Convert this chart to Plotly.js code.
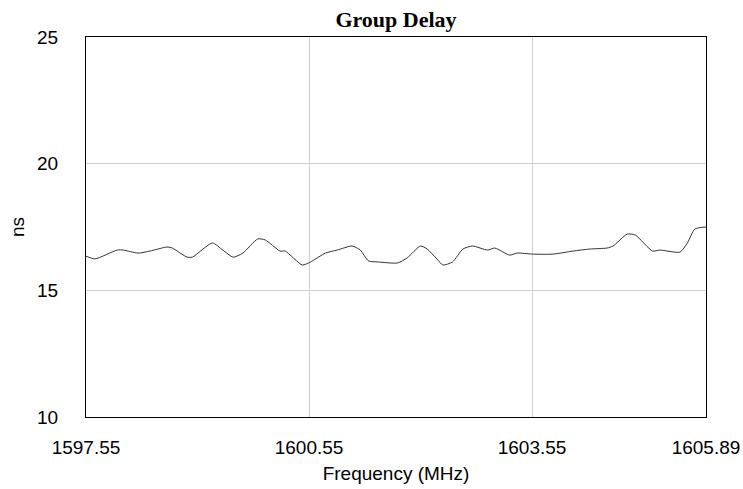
<!DOCTYPE html>
<html>
<head>
<meta charset="utf-8">
<script src="https://cdn.plot.ly/plotly-3.0.1.min.js"></script>
<style>html,body{margin:0;padding:0;background:#fff;}#chart{width:743px;height:489px;}</style>
</head>
<body>
<div id="chart"></div>
<script>
const freqMHz = [1597.55,1597.67,1597.97,1598.05,1598.25,1598.41,1598.64,1598.71,1598.91,1598.98,
  1599.25,1599.39,1599.53,1599.66,1599.86,1599.96,1600.16,1600.23,1600.46,1600.57,
  1600.77,1600.93,1601.13,1601.24,1601.35,1601.48,1601.74,1601.87,1602.05,1602.14,
  1602.27,1602.35,1602.48,1602.62,1602.75,1602.95,1603.05,1603.16,1603.25,1603.35,
  1603.56,1603.83,1604.10,1604.33,1604.56,1604.64,1604.83,1604.94,1605.17,1605.27,
  1605.54,1605.64,1605.74,1605.89];
const delayNs = [16.35,16.24,16.59,16.59,16.47,16.55,16.71,16.67,16.31,16.31,
  16.87,16.59,16.31,16.47,17.03,16.99,16.55,16.55,16.00,16.12,
  16.47,16.59,16.75,16.59,16.16,16.12,16.08,16.28,16.75,16.63,
  16.24,16.00,16.12,16.63,16.75,16.59,16.67,16.51,16.39,16.47,
  16.43,16.43,16.55,16.63,16.67,16.75,17.22,17.18,16.55,16.59,
  16.51,16.87,17.42,17.50];
const xTicks = [1597.55,1600.55,1603.55,1605.89];
const xTickText = ['1597.55','1600.55','1603.55','1605.89'];
const yTicks = [10,15,20,25];

const trace = {
  x: freqMHz, y: delayNs, type: 'scatter', mode: 'lines',
  line: {color: '#333333', width: 1, shape: 'spline', smoothing: 0.6},
  hoverinfo: 'skip'
};
const layout = {
  width: 743, height: 489,
  margin: {l: 86, r: 37, t: 37, b: 72},
  paper_bgcolor: '#ffffff', plot_bgcolor: '#ffffff',
  showlegend: false,
  font: {family: 'Liberation Sans, Arial, sans-serif', size: 19, color: '#000'},
  title: {text: '<b>Group Delay</b>', font: {family: 'Liberation Serif, Times New Roman, serif', size: 22, color: '#000'},
          x: 0.5, xanchor: 'center', y: 0.961, yanchor: 'middle', xref: 'paper'},
  xaxis: {
    range: [1597.55, 1605.89], tickmode: 'array', tickvals: xTicks, ticktext: xTickText,
    showgrid: true, gridcolor: '#d0d0d0', gridwidth: 1, zeroline: false,
    showline: true, linecolor: '#000', linewidth: 1, mirror: true, ticks: '',
    ticklabelstandoff: 13,
    tickfont: {size: 19, color: '#000'},
    title: {text: 'Frequency (MHz)', font: {size: 19, color: '#000'}, standoff: 9}
  },
  yaxis: {
    range: [10, 25], tickmode: 'array', tickvals: yTicks,
    showgrid: true, gridcolor: '#d0d0d0', gridwidth: 1, zeroline: false,
    showline: true, linecolor: '#000', linewidth: 1, mirror: true, ticks: '',
    ticklabelstandoff: 23,
    tickfont: {size: 19, color: '#000'},
    title: {text: 'ns', font: {size: 19, color: '#000'}, standoff: 7}
  }
};
Plotly.newPlot('chart', [trace], layout, {displayModeBar: false, staticPlot: true});
</script>
</body>
</html>
